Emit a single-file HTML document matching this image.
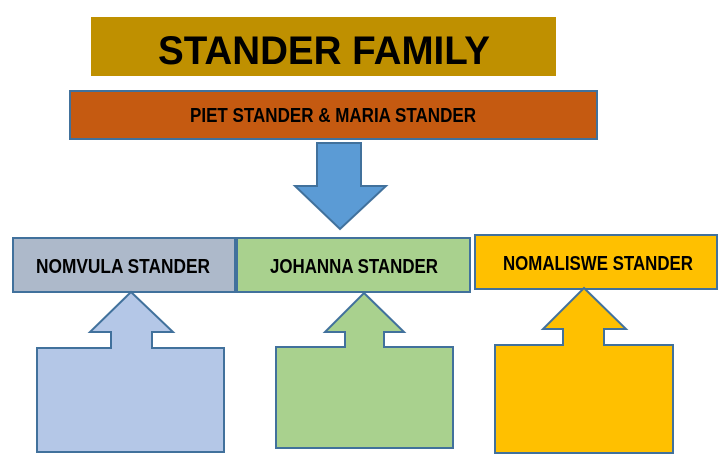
<!DOCTYPE html>
<html><head><meta charset="utf-8"><style>
html,body{margin:0;padding:0;background:#fff;}
svg{display:block;}
text{font-family:"Liberation Sans",Arial,sans-serif;font-weight:bold;fill:#000;}
</style></head><body>
<svg width="723" height="465" viewBox="0 0 723 465" xmlns="http://www.w3.org/2000/svg">
<rect x="91" y="17" width="465" height="59" fill="#BF9000"/>
<text x="158" y="64" font-size="40" textLength="332" lengthAdjust="spacingAndGlyphs">STANDER FAMILY</text>
<rect x="70" y="91" width="527" height="48" fill="#C55A11" stroke="#41719C" stroke-width="2"/>
<text x="190" y="122" font-size="20" textLength="286" lengthAdjust="spacingAndGlyphs">PIET STANDER &amp; MARIA STANDER</text>
<polygon points="317,143 361,143 361,186 386,186 340,229 295,186 317,186" fill="#5B9BD5" stroke="#41719C" stroke-width="2"/>
<rect x="13" y="238" width="222" height="54" fill="#ADB9CA" stroke="#41719C" stroke-width="2"/>
<text x="36" y="273" font-size="20" textLength="174" lengthAdjust="spacingAndGlyphs">NOMVULA STANDER</text>
<rect x="237" y="238" width="233" height="54" fill="#A9D18E" stroke="#41719C" stroke-width="2"/>
<text x="270" y="273" font-size="20" textLength="168" lengthAdjust="spacingAndGlyphs">JOHANNA STANDER</text>
<rect x="475" y="235" width="242" height="54" fill="#FFC000" stroke="#41719C" stroke-width="2"/>
<text x="503" y="270" font-size="20" textLength="190" lengthAdjust="spacingAndGlyphs">NOMALISWE STANDER</text>
<polygon points="131,292 173,332 152,332 152,348 224,348 224,452 37,452 37,348 111,348 111,332 90,332" fill="#B4C7E7" stroke="#41719C" stroke-width="2"/>
<polygon points="364,293 404,332 384,332 384,347 453,347 453,448 276,448 276,347 345,347 345,332 325,332" fill="#A9D18E" stroke="#41719C" stroke-width="2"/>
<polygon points="584,288 626,329 604,329 604,345 673,345 673,453 495,453 495,345 563,345 563,329 543,329" fill="#FFC000" stroke="#41719C" stroke-width="2"/>
</svg>
</body></html>
